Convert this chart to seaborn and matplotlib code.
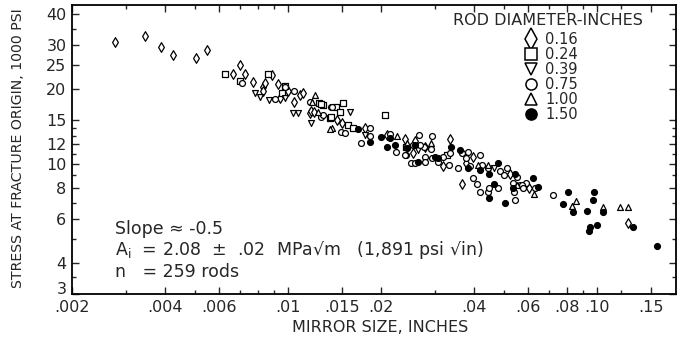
import numpy as np
import pandas as pd
import matplotlib
matplotlib.use("Agg")
import matplotlib.pyplot as plt
from matplotlib.lines import Line2D
from matplotlib.ticker import FixedLocator, FixedFormatter, NullFormatter
import seaborn as sns

# mirror size (inches) and stress (1000 psi), per rod diameter
d016_x = [.00276, .00344, .00388, .00424, .00504, .00547, .00664, .0070, .00726, .0077,
          .0083, .0084, .0089, .0083, .0093, .0094, .0100, .0109, .0112, .0105,
          .0118, .0119, .0121, .0144, .0150, .0177, .0210, .0239, .0258, .0335,
          .0397, .0378, .0365, .0317, .0254, .0278, .0523, .0603, .126]
d016_y = [30.9, 32.6, 29.5, 27.4, 26.6, 28.6, 23.0, 24.9, 22.9, 21.3,
          20.3, 21.1, 22.7, 19.6, 20.9, 18.5, 19.6, 18.9, 19.3, 17.8,
          16.0, 16.3, 16.2, 15.0, 14.6, 14.0, 13.1, 12.6, 12.4, 12.6,
          10.7, 10.1, 8.3, 9.8, 11.1, 11.7, 9.1, 8.0, 5.8]

d024_x = [.00625, .0070, .0086, .0098, .0096, .0126, .0130, .0128, .0137, .0143,
          .0151, .0138, .0147, .0156, .0162, .0206, .0241, .0328]
d024_y = [22.9, 21.5, 22.9, 20.5, 19.3, 17.6, 17.2, 17.4, 15.3, 16.9,
          17.6, 15.5, 16.2, 14.4, 14.0, 15.8, 11.7, 10.9]

d039_x = [.0078, .0081, .0098, .0108, .0104, .0119, .0178, .0087, .0159, .0264, .0464]
d039_y = [19.3, 18.6, 18.5, 16.0, 16.0, 14.6, 13.1, 18.0, 16.2, 11.4, 9.6]

d075_x = [.0071, .0091, .0098, .0105, .0118, .0128, .0138, .0139, .0130, .0148,
          .0153, .0184, .0184, .0173, .0214, .0224, .0266, .0276, .0278, .0241,
          .0250, .0305, .0293, .0291, .0254, .0239, .0258, .0293, .0318, .0335,
          .0354, .0331, .0365, .0383, .0418, .0388, .0397, .0425, .0418, .0443,
          .0479, .0486, .0511, .0534, .0564, .0539, .0543, .0591, .0573, .0722,
          .0278, .0376, .0443, .0408, .0446, .0499, .0553, .0577, .0631, .0268]
d075_y = [21.1, 18.3, 20.3, 19.6, 17.7, 15.5, 16.9, 17.0, 15.7, 13.5,
          13.3, 14.0, 13.0, 12.2, 13.2, 11.2, 13.1, 11.7, 10.7, 10.9,
          10.1, 10.2, 13.0, 11.5, 11.9, 10.9, 10.1, 10.6, 10.7, 11.1,
          9.6, 9.9, 11.1, 11.2, 10.9, 9.8, 8.8, 9.9, 7.7, 7.7,
          8.0, 9.4, 9.6, 8.4, 8.2, 7.7, 7.2, 8.4, 8.2, 7.5,
          10.2, 10.6, 9.6, 8.3, 8.0, 9.0, 8.9, 8.0, 8.0, 11.9]

d100_x = [.0122, .0120, .0125, .0139, .0137, .0225, .0626, .0830, .0857, .1045,
          .1188, .126, .0243, .0413, .0291, .0443, .0553]
d100_y = [18.9, 17.7, 16.2, 13.9, 13.8, 13.0, 7.6, 6.8, 7.1, 6.7,
          6.7, 6.7, 12.2, 9.9, 12.1, 9.9, 8.2]

d150_x = [.0168, .0184, .0200, .0214, .0222, .0210, .0258, .0264, .0299, .0243,
          .0306, .0338, .0360, .0383, .0418, .0446, .0479, .0464, .0543, .0534,
          .0620, .0504, .0446, .0643, .0804, .0776, .0838, .0978, .0970, .0930,
          .1045, .0950, .0943, .1000, .131, .157]
d150_y = [13.8, 12.3, 12.8, 12.7, 11.9, 11.7, 11.9, 10.2, 10.7, 11.6,
          10.6, 11.7, 11.4, 9.6, 9.5, 9.1, 10.1, 8.3, 9.1, 8.0,
          8.8, 7.0, 7.3, 8.1, 7.7, 6.9, 6.4, 7.7, 7.2, 6.5,
          6.4, 5.6, 5.4, 5.7, 5.6, 4.7]

rod_labels = ["0.16", "0.24", "0.39", "0.75", "1.00", "1.50"]
rod_markers = ["d", "s", "v", "o", "^", "o"]
rod_faces = ["white", "white", "white", "white", "white", "black"]

xticks = [.002, .004, .006, .01, .015, .02, .04, .06, .08, .10, .15]
xticklabels = [".002", ".004", ".006", ".01", ".015", ".02", ".04", ".06", ".08", ".10", ".15"]
xminor = [.003, .005, .007, .008, .009, .03, .05, .07, .09, .12]
yticks = [3, 4, 6, 8, 10, 12, 15, 20, 25, 30, 40]
yticklabels = ["3", "4", "6", "8", "10", "12", "15", "20", "25", "30", "40"]
yminor = [3.5, 5, 7, 9, 11, 13, 14, 35]

groups = [(d016_x, d016_y), (d024_x, d024_y), (d039_x, d039_y),
          (d075_x, d075_y), (d100_x, d100_y), (d150_x, d150_y)]
frames = []
for lab, (xs, ys) in zip(rod_labels, groups):
    frames.append(pd.DataFrame({"mirror": xs, "stress": ys, "rod": lab}))
df = pd.concat(frames, ignore_index=True)

sns.set_style("ticks")
plt.rcParams['font.family'] = ['DejaVu Sans']

fig = plt.figure(figsize=(6.86, 3.42), dpi=100)
ax = fig.add_axes([0.105, 0.140, 0.880, 0.845])

for lab, mk, fc in zip(rod_labels, rod_markers, rod_faces):
    sub = df[df["rod"] == lab]
    sns.scatterplot(data=sub, x="mirror", y="stress", ax=ax, marker=mk,
                    facecolor=fc, edgecolor="black", linewidth=0.9,
                    s=18 if mk != "d" else 24, legend=False)

ax.set_xscale("log")
ax.set_yscale("log")
ax.set_xlim(0.002, 0.18)
ax.set_ylim(3, 43.5)

ax.xaxis.set_major_locator(FixedLocator(xticks))
ax.xaxis.set_major_formatter(FixedFormatter(xticklabels))
ax.xaxis.set_minor_locator(FixedLocator(xminor))
ax.xaxis.set_minor_formatter(NullFormatter())
ax.yaxis.set_major_locator(FixedLocator(yticks))
ax.yaxis.set_major_formatter(FixedFormatter(yticklabels))
ax.yaxis.set_minor_locator(FixedLocator(yminor))
ax.yaxis.set_minor_formatter(NullFormatter())

ax.tick_params(which="both", direction="in", top=True, right=True, width=1.0, labelsize=11.5)
ax.tick_params(which="major", length=5)
ax.tick_params(which="minor", length=3)
ax.tick_params(axis="x", pad=4)
ax.tick_params(axis="y", pad=4)
for sp in ax.spines.values():
    sp.set_linewidth(1.3)
    sp.set_color("black")

# the "3" sits a bit higher so it clears ".002"
fig.canvas.draw()
ax.get_yticklabels()[0].set_verticalalignment("baseline")

ax.set_xlabel("MIRROR SIZE, INCHES", fontsize=11.5)
ax.set_ylabel("STRESS AT FRACTURE ORIGIN, 1000 PSI", fontsize=10.2)
ax.xaxis.set_label_coords(0.51, -0.09)
ax.yaxis.set_label_coords(-0.078, 0.505)

# legend: title as a separate text so it sits centred like the original
ax.text(0.788, 0.948, "ROD DIAMETER-INCHES", transform=ax.transAxes,
        ha="center", va="center", fontsize=11.5)
handles = [Line2D([], [], linestyle="none", marker=mk, markerfacecolor=fc,
                  markeredgecolor="black", markeredgewidth=1.1,
                  markersize=11 if mk == "d" else 8)
           for mk, fc in zip(rod_markers, rod_faces)]
ax.legend(handles, rod_labels, frameon=False, loc="upper left",
          bbox_to_anchor=(0.748, 0.907), fontsize=10.5, labelspacing=0.0,
          handletextpad=0.5, handlelength=1.0, borderpad=0, borderaxespad=0)

ax.text(0.071, 0.225, "Slope \u2248 -0.5", transform=ax.transAxes, fontsize=12.5, va="center")
ax.text(0.071, 0.152, "A$_\\mathregular{i}$  = 2.08  \u00b1  .02  MPa\u221am   (1,891 psi \u221ain)",
        transform=ax.transAxes, fontsize=12.5, va="center")
ax.text(0.071, 0.078, "n   = 259 rods", transform=ax.transAxes, fontsize=12.5, va="center")

plt.savefig("out.png", dpi=100)
